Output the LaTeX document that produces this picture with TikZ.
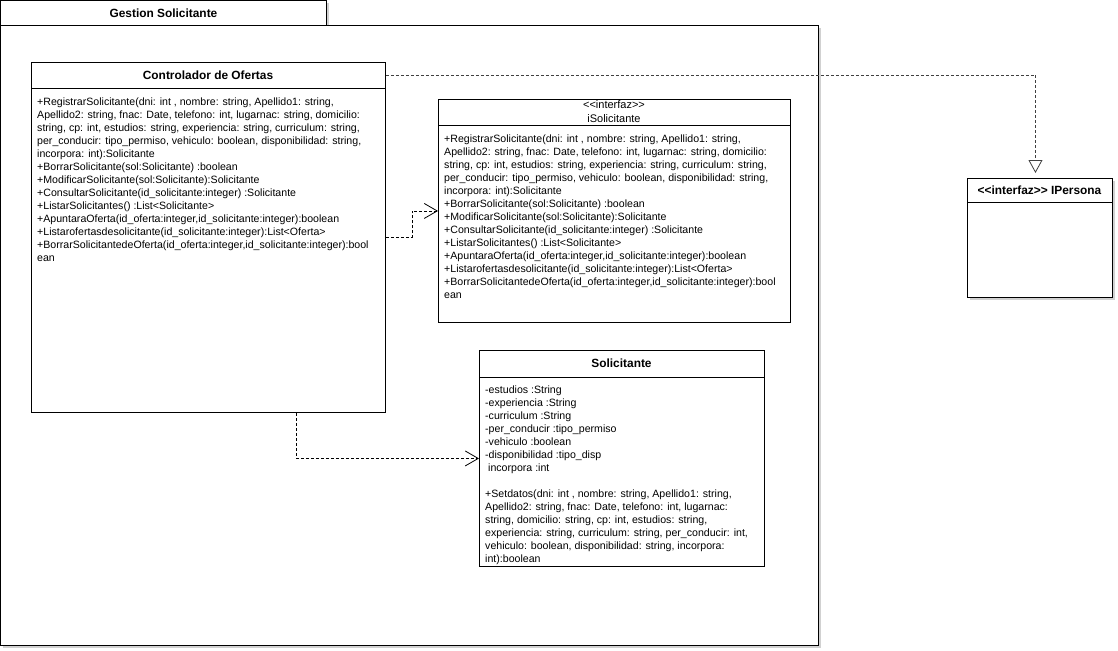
\documentclass[tikz,border=0pt]{standalone}
\usepackage{fontspec}
\setmainfont{Liberation Sans}
\usepackage{tikz}
\usetikzlibrary{arrows.meta,positioning,shadows,calc}
\newcommand{\solops}{+RegistrarSolicitante(dni: int , nombre: string, Apellido1: string,\\
Apellido2: string, fnac: Date, telefono: int, lugarnac: string, domicilio:\\
string, cp: int, estudios: string, experiencia: string, curriculum: string,\\
per\_conducir: tipo\_permiso, vehiculo: boolean, disponibilidad: string,\\
incorpora: int):Solicitante\\
+BorrarSolicitante(sol:Solicitante) :boolean\\
+ModificarSolicitante(sol:Solicitante):Solicitante\\
+ConsultarSolicitante(id\_solicitante:integer) :Solicitante\\
+ListarSolicitantes() :List<Solicitante>\\
+ApuntaraOferta(id\_oferta:integer,id\_solicitante:integer):boolean\\
+Listarofertasdesolicitante(id\_solicitante:integer):List<Oferta>\\
+BorrarSolicitantedeOferta(id\_oferta:integer,id\_solicitante:integer):bool\\
ean}

\begin{document}
\begin{tikzpicture}[x=1pt,y=-1pt,
every node/.style={font=\fontsize{10.6}{13}\selectfont},
box/.style={draw=black,line width=0.9pt,fill=white,anchor=north west,inner sep=0pt},
shd/.style={drop shadow={shadow xshift=3pt,shadow yshift=-3pt,opacity=0.18,fill=black}},
ttl/.style={font=\fontsize{11.9}{13}\selectfont\bfseries},
body/.style={anchor=north west,align=left,inner sep=0pt},
sep/.style={line width=0.9pt},
dep/.style={draw=black,line width=0.8pt,dash pattern=on 3pt off 2pt,-{Straight Barb[length=13pt,width=15pt]}},
real/.style={draw=black!75,line width=0.8pt,dash pattern=on 3pt off 2pt,-{Triangle[open,length=13pt,width=14pt,fill=white]},shorten >=5pt}
]
\useasboundingbox (0,0) rectangle (1118,650);

\node[box,shd,ttl,minimum width=326pt,minimum height=25pt] (tab) at (0,0) {Gestion Solicitante};
\node[box,shd,minimum width=818pt,minimum height=620pt] (pkg) at (0,25) {};

\node[box,minimum width=354pt,minimum height=350pt] (ctrl) at (31,62) {};
\node[ttl] (ctrlname) at (208,75) {Controlador de Ofertas};
\draw[sep] ($(ctrl.north west)+(0,26)$) -- ($(ctrl.north east)+(0,26)$);
\node[body] (ctrlops) at (37,97.2) {\solops};

\node[box,minimum width=352pt,minimum height=223pt] (isol) at (438,99) {};
\node[align=center,inner sep=0pt,font=\fontsize{11}{14}\selectfont] (isolname) at (614,111.5) {<{}<interfaz>{}>\\iSolicitante};
\draw[sep] ($(isol.north west)+(0,26)$) -- ($(isol.north east)+(0,26)$);
\node[body] (isolops) at (444,134.2) {\solops};

\node[box,minimum width=285pt,minimum height=216pt] (sol) at (479,350) {};
\node[ttl] (solname) at (621.5,363) {Solicitante};
\draw[sep] ($(sol.north west)+(0,27)$) -- ($(sol.north east)+(0,27)$);
\node[body] (solattr) at (485,385.2) {-estudios :String\\
-experiencia :String\\
-curriculum :String\\
-per\_conducir :tipo\_permiso\\
-vehiculo :boolean\\
-disponibilidad :tipo\_disp\\
\ incorpora :int\\[13pt]
+Setdatos(dni: int , nombre: string, Apellido1: string,\\
Apellido2: string, fnac: Date, telefono: int, lugarnac:\\
string, domicilio: string, cp: int, estudios: string,\\
experiencia: string, curriculum: string, per\_conducir: int,\\
vehiculo: boolean, disponibilidad: string, incorpora:\\
int):boolean};

\node[box,shd,minimum width=145pt,minimum height=119pt] (iper) at (967,178) {};
\node[ttl] (ipername) at (1039.5,190) {<{}<interfaz>{}> IPersona};
\draw[sep] ($(iper.north west)+(0,24)$) -- ($(iper.north east)+(0,24)$);

\draw[real] (ctrlname -| ctrl.east) -| ([xshift=-4.5pt]iper.north);
\draw[dep] (ctrl.east) -- ++(26,0) |- (isol.west);
\draw[dep] ([xshift=88pt]ctrl.south) |- (sol.west);
\end{tikzpicture}
\end{document}
